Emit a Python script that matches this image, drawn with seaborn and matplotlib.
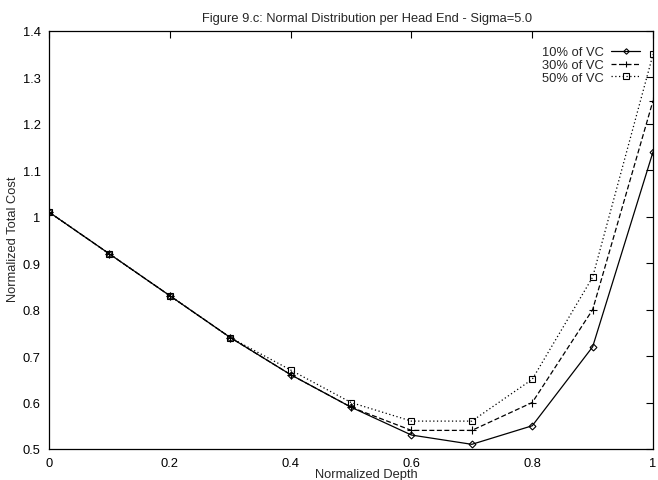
import matplotlib
matplotlib.use("Agg")
import matplotlib.pyplot as plt
import seaborn as sns
import pandas as pd

depth = [0.0, 0.1, 0.2, 0.3, 0.4, 0.5, 0.6, 0.7, 0.8, 0.9, 1.0]
vc10 = [1.01, 0.92, 0.83, 0.74, 0.66, 0.59, 0.53, 0.51, 0.55, 0.72, 1.14]
vc30 = [1.01, 0.92, 0.83, 0.74, 0.66, 0.59, 0.54, 0.54, 0.60, 0.80, 1.25]
vc50 = [1.01, 0.92, 0.83, 0.74, 0.67, 0.60, 0.56, 0.56, 0.65, 0.87, 1.35]
labels = ["10% of VC", "30% of VC", "50% of VC"]
xticks = [0, 0.2, 0.4, 0.6, 0.8, 1]
xticklabels = ["0", "0.2", "0.4", "0.6", "0.8", "1"]
yticks = [0.5, 0.6, 0.7, 0.8, 0.9, 1.0, 1.1, 1.2, 1.3, 1.4]
yticklabels = ["0.5", "0.6", "0.7", "0.8", "0.9", "1", "1.1", "1.2", "1.3", "1.4"]

sns.set_style("white")
plt.rcParams['font.family'] = ['Liberation Sans', 'DejaVu Sans']
FS = 9.3

fig = plt.figure(figsize=(6.58, 4.81), dpi=100)
ax = fig.add_axes([0.0745, 0.0645, 0.918, 0.869])

styles = [
    dict(linestyle="-", marker="D", markersize=3.5),
    dict(linestyle=(0, (4, 2)), marker="+", markersize=6),
    dict(linestyle=(0, (1, 2)), marker="s", markersize=5),
]
for lab, vals, st in zip(labels, [vc10, vc30, vc50], styles):
    df = pd.DataFrame({"x": depth, "y": vals})
    sns.lineplot(data=df, x="x", y="y", ax=ax, color="black", linewidth=0.9,
                 mfc="none", mec="black", mew=0.8, label=lab, **st)

ax.set_xlim(0, 1)
ax.set_ylim(0.5, 1.4)
ax.set_xticks(xticks)
ax.set_xticklabels(xticklabels)
ax.set_yticks(yticks)
ax.set_yticklabels(yticklabels)
ax.tick_params(direction="in", length=5, width=0.8, top=True, right=True,
               labelsize=FS, colors="black", pad=6)
ax.set_xlabel("Normalized Depth", fontsize=FS)
ax.xaxis.set_label_coords(0.525, -0.045)
ax.set_ylabel("Normalized Total Cost", fontsize=FS)
ax.yaxis.set_label_coords(-0.05, 0.505)
ax.set_title("Figure 9.c: Normal Distribution per Head End - Sigma=5.0",
             fontsize=FS, x=0.526, pad=7)
for s in ax.spines.values():
    s.set_color("black")
    s.set_linewidth(0.9)

leg = ax.legend(loc="upper right", frameon=False, markerfirst=False, fontsize=FS,
                handlelength=2.2, handletextpad=0.6, labelspacing=0.05,
                borderaxespad=0.3, bbox_to_anchor=(0.993, 0.985))
for h in leg.legend_handles:
    h.set_markersize(h.get_markersize() * 0.8)

fig.savefig("out.png", dpi=100)
